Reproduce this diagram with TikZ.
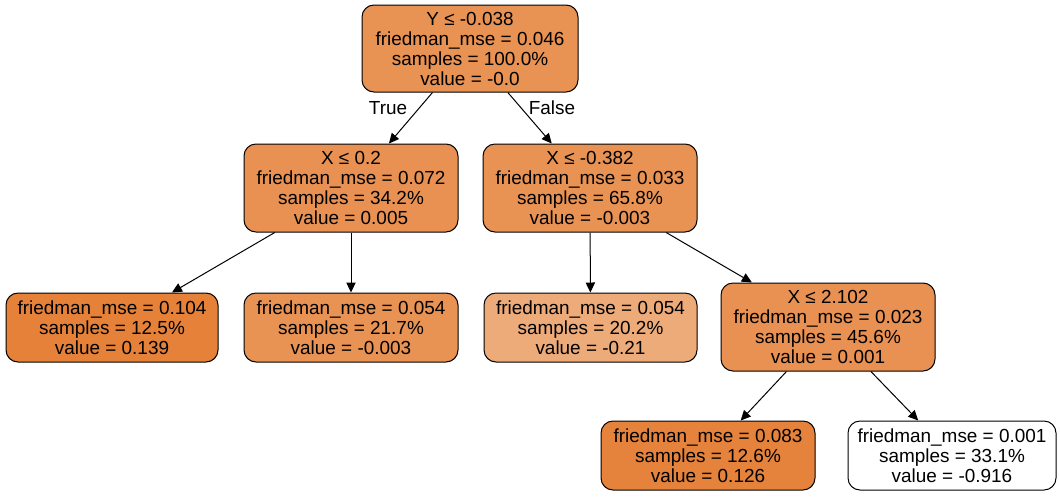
\documentclass[tikz,border=0pt]{standalone}
\usepackage{fontspec}
\setmainfont{Liberation Sans}
\usetikzlibrary{arrows.meta}
\definecolor{c0}{RGB}{232,146,83}
\definecolor{c1}{RGB}{232,145,82}
\definecolor{c2}{RGB}{232,146,84}
\definecolor{cmax}{RGB}{229,129,57}
\definecolor{clow}{RGB}{238,171,122}
\definecolor{c3}{RGB}{232,145,83}
\definecolor{c4}{RGB}{229,130,59}
\begin{document}
\begin{tikzpicture}[x=0.75pt,y=-0.75pt,
  tree/.style={draw=black, line width=0.75pt, rounded corners=9pt, align=center,
    font=\fontsize{14.2pt}{15pt}\selectfont, inner sep=0pt},
  split/.style={tree, minimum width=160.5pt, minimum height=66pt},
  leaf/.style={tree, minimum width=160.5pt, minimum height=51.75pt},
  edge/.style={draw=black, line width=0.75pt, -{Triangle[length=7.5pt,width=7pt]}},
  lbl/.style={font=\fontsize{14.2pt}{15pt}\selectfont}]
\useasboundingbox (0,0) rectangle (1060,497);

\node[split, fill=c0, minimum width=162pt, minimum height=65.25pt] (root) at (470,48.5)
  {Y ≤ -0.038\\friedman\_mse = 0.046\\samples = 100.0\%\\value = -0.0};
\node[split, fill=c1] (a) at (351,188)
  {X ≤ 0.2\\friedman\_mse = 0.072\\samples = 34.2\%\\value = 0.005};
\node[split, fill=c2] (b) at (590,188)
  {X ≤ -0.382\\friedman\_mse = 0.033\\samples = 65.8\%\\value = -0.003};
\node[leaf, fill=cmax, minimum width=159pt] (la) at (112,327.5)
  {friedman\_mse = 0.104\\samples = 12.5\%\\value = 0.139};
\node[leaf, fill=c2] (lb) at (351,327.5)
  {friedman\_mse = 0.054\\samples = 21.7\%\\value = -0.003};
\node[leaf, fill=clow, minimum width=159.75pt] (lc) at (590.5,327.5)
  {friedman\_mse = 0.054\\samples = 20.2\%\\value = -0.21};
\node[split, fill=c3] (c) at (828,327)
  {X ≤ 2.102\\friedman\_mse = 0.023\\samples = 45.6\%\\value = 0.001};
\node[leaf, fill=c4] (ld) at (708,455.5)
  {friedman\_mse = 0.083\\samples = 12.6\%\\value = 0.126};
\node[leaf, fill=white, minimum width=156pt] (le) at (952,455.5)
  {friedman\_mse = 0.001\\samples = 33.1\%\\value = -0.916};

\draw[edge] (root) -- (a);
\draw[edge] (root) -- (b);
\draw[edge] (a) -- (la);
\draw[edge] (a) -- (lb);
\draw[edge] (b) -- (lc);
\draw[edge] (b) -- (c);
\draw[edge] (c) -- (ld);
\draw[edge] (c) -- (le);

\node[lbl] (t) at (388,108) {True};
\node[lbl] (f) at (552,108) {False};
\end{tikzpicture}
\end{document}
